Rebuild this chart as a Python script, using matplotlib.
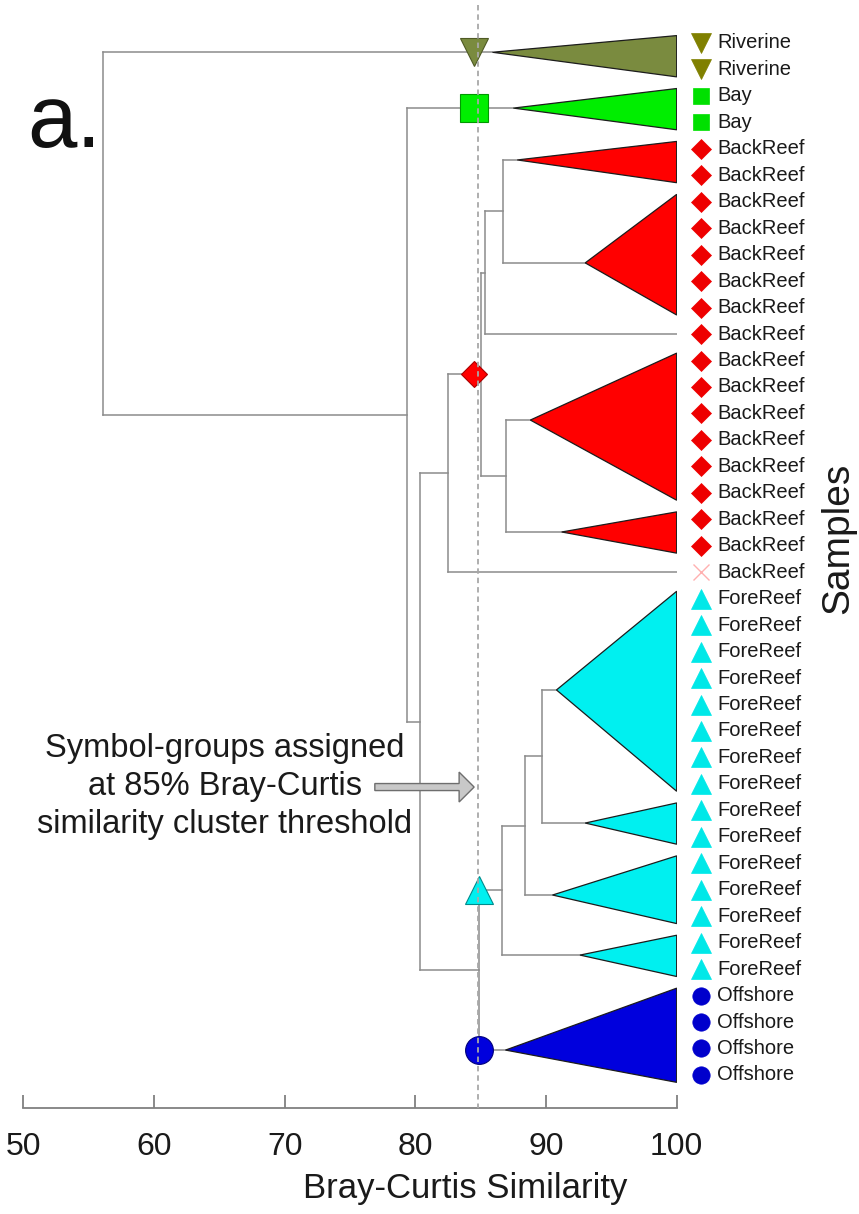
import matplotlib
matplotlib.use("Agg")
import matplotlib.pyplot as plt
from matplotlib.patches import Polygon, FancyArrow

plt.rcParams['font.family'] = ['Liberation Sans', 'DejaVu Sans']

# samples, top to bottom
sample_groups = (['Riverine'] * 2 + ['Bay'] * 2 + ['BackReef'] * 17
                 + ['ForeReef'] * 15 + ['Offshore'] * 4)
outlier_rows = [20]  # BackReef sample left outside the 85% groups

group_names = ['Riverine', 'Bay', 'BackReef', 'ForeReef', 'Offshore']
group_fill = ['#7a8b3f', '#00ee00', '#ff0000', '#00f0f0', '#0000dd']
group_edge = ['#4f5a25', '#009900', '#aa0000', '#008b8b', '#00007a']
group_label_color = ['#808000', '#00e000', '#ee0000', '#00e8e8', '#0000cc']
group_marker = ['v', 's', 'D', '^', 'o']
label_ms = [14, 11.5, 10.5, 14.5, 12.5]
node_ms = [20, 20, 13, 20, 20]

# collapsed clades: first row, last row, similarity at the clade node, row of the apex
clade_first = [0, 2, 4, 6, 11, 12, 18, 20, 21, 29, 31, 34, 36]
clade_last = [1, 3, 5, 10, 11, 17, 19, 20, 28, 30, 33, 35, 39]
clade_sim = [85.9, 87.5, 87.8, 93.0, 100, 88.8, 91.2, 100, 90.8, 93.0, 90.5, 92.6, 86.9]
clade_apex = [0.35, 2.46, 4.42, 8.31, 11, 14.25, 18.48, 20, 24.45, 29.48, 32.2, 34.47, 38.06]

# joins (clades are ids 0-12, joins take ids 13..)
join_sim = [86.7, 85.3, 86.9, 85.0, 82.5, 89.7, 88.4, 86.6, 84.9, 80.35, 79.4, 56.1]
join_left = [2, 13, 5, 14, 16, 8, 18, 19, 20, 17, 1, 0]
join_right = [3, 4, 6, 15, 7, 9, 10, 11, 12, 21, 22, 23]

threshold = 84.8
# group symbol drawn where each group's branch meets the threshold
group_node = [0, 1, 16, 20, 12]
group_node_x = [84.5, 84.5, 84.5, 84.85, 84.85]

note_lines = ['Symbol-groups assigned', 'at 85% Bray-Curtis',
              'similarity cluster threshold']

W, H = 859, 1214
row0, row_h = 43, 26.46
axis_px = 1108

fig = plt.figure(figsize=(W / 100, H / 100), dpi=100)
ax = fig.add_axes([23.3 / W, (H - axis_px) / H, (676.7 - 23.3) / W, axis_px / H])
ax.set_xlim(50, 100)
ax.set_ylim((axis_px - row0) / row_h, -row0 / row_h)

line_col = '#8c8c8c'

# node positions
node_x = list(clade_sim)
node_y = list(clade_apex)
for s, l, r in zip(join_sim, join_left, join_right):
    node_x.append(s)
    node_y.append((node_y[l] + node_y[r]) / 2)

for s, l, r in zip(join_sim, join_left, join_right):
    ax.plot([s, s], [node_y[l], node_y[r]], color=line_col, lw=1.1, zorder=1)
    for c in (l, r):
        ax.plot([s, node_x[c]], [node_y[c], node_y[c]], color=line_col, lw=1.1, zorder=1)

# collapsed clades as triangles
for f, la, s, a in zip(clade_first, clade_last, clade_sim, clade_apex):
    if f == la:
        continue
    g = group_names.index(sample_groups[f])
    tri = Polygon([(s, a), (100, f - 0.28), (100, la + 0.28)], closed=True,
                  fc=group_fill[g], ec='#1c1c1c', lw=0.9, zorder=2)
    ax.add_patch(tri)

# group symbols on the threshold
for g, n in enumerate(group_node):
    ax.plot(group_node_x[g], node_y[n], marker=group_marker[g], ms=node_ms[g],
            mfc=group_fill[g], mec=group_edge[g], mew=0.8, zorder=2)

ax.plot([threshold, threshold], [-1.45, (axis_px - row0) / row_h],
        color='#a8a8a8', lw=1.3, dashes=(3.0, 2.2), zorder=3, clip_on=False)

# sample labels
for i, name in enumerate(sample_groups):
    g = group_names.index(name)
    if i in outlier_rows:
        ax.plot(101.85, i, marker='x', ms=11, mec='#ffb0b0', mew=1.0, clip_on=False)
    else:
        ax.plot(101.85, i, marker=group_marker[g], ms=label_ms[g], mfc=group_label_color[g],
                mec=group_label_color[g], mew=0.5, clip_on=False)
    ax.text(103.1, i, name, fontsize=14.5, color='#1a1a1a', ha='left', va='center',
            clip_on=False)

# arrow pointing to the threshold line
ax.add_patch(FancyArrow(76.9, 28.12, 7.6, 0, width=0.265, head_width=1.13,
                        head_length=1.15, length_includes_head=True,
                        fc='#c8c8c8', ec='#6e6e6e', lw=1.0, clip_on=False, zorder=3))
for k, t in enumerate(note_lines):
    fig.text(225 / W, 1 - (757 + 38 * k) / H, t, fontsize=23.5, color='#1a1a1a',
             ha='center', va='baseline')

for side in ('left', 'right', 'top'):
    ax.spines[side].set_visible(False)
ax.spines['bottom'].set_color('#808080')
ax.spines['bottom'].set_linewidth(1.3)
ax.set_yticks([])
ax.set_xticks(range(50, 101, 10))
ax.tick_params(axis='x', direction='in', length=9.5, width=1.3, color='#808080',
               labelsize=23, pad=17, labelcolor='#1a1a1a')
ax.set_xlabel('Bray-Curtis Similarity', fontsize=25, color='#1a1a1a')
ax.xaxis.set_label_coords(0.676, -0.058)
ax.patch.set_alpha(0)

fig.text(838 / W, 1 - 538 / H, 'Samples', fontsize=28, rotation=90,
         ha='center', va='center', color='#1a1a1a')
fig.text(27 / W, 1 - 147 / H, 'a.', fontsize=64, ha='left', va='baseline', color='#111111')

fig.savefig('out.png', dpi=100)
